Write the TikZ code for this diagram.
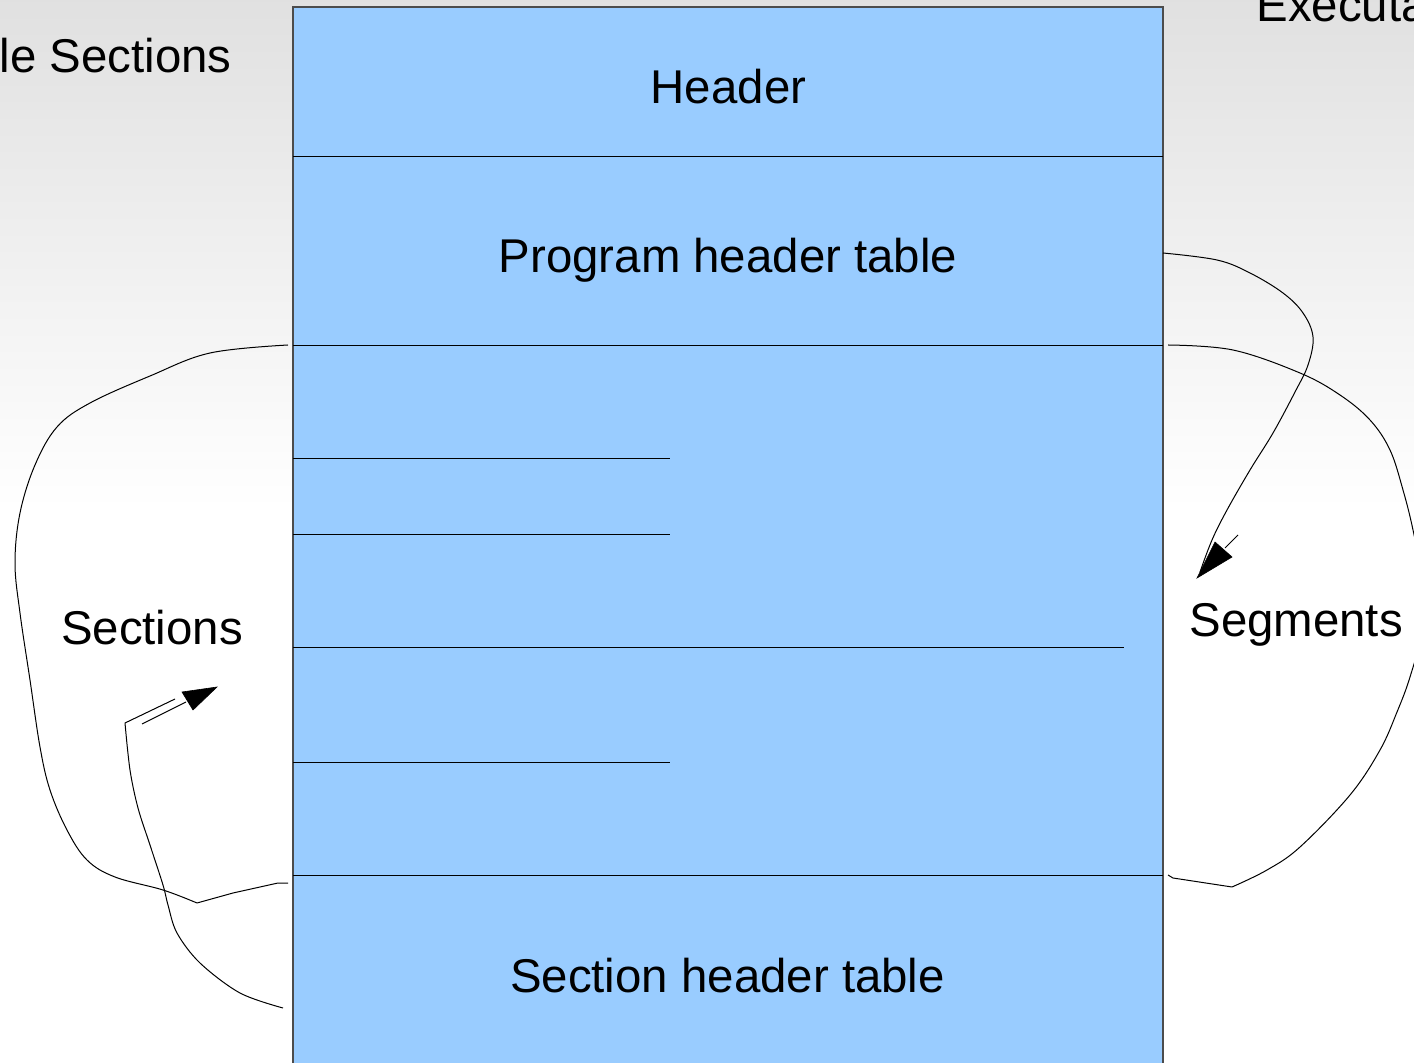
\documentclass[tikz,border=0pt]{standalone}
\usepackage{fontspec}
\setmainfont{Liberation Sans}
\definecolor{boxblue}{HTML}{99CCFF}
\begin{document}
\begin{tikzpicture}[x=0.5pt,y=-0.5pt,
  lbl/.style={font=\fontsize{23.7}{28}\selectfont, inner sep=0pt, anchor=base},
  sep/.style={line width=0.5pt, draw=black},
  curve/.style={line width=0.5pt, draw=black, line join=round},
  head/.style={fill=black, draw=black, line width=0.3pt}]
\useasboundingbox (0,0) rectangle (1414,1063);
\clip (0,0) rectangle (1414,1063);
% background
\shade[top color=black!12, bottom color=white] (0,0) rectangle (1414,510);
\fill[white] (0,509) rectangle (1414,1063);
% file box
\draw[fill=boxblue, draw=black!70, line width=0.75pt] (293,7) rectangle (1163,1090);
\draw[sep] (293,157) -- (1163,157);
\draw[sep] (293,346) -- (1163,346);
\draw[sep] (293,459) -- (670,459);
\draw[sep] (293,535) -- (670,535);
\draw[sep] (293,648) -- (1124,648);
\draw[sep] (293,762) -- (670,762);
\draw[sep] (293,875) -- (1163,875);
% labels
\node[lbl] (hdr) at (728.5,104) {Header};
\node[lbl] (pht) at (728,273) {Program header table};
\node[lbl] (sht) at (727.5,992) {Section header table};
\node[lbl] (secs) at (152,645) {Sections};
\node[lbl, anchor=base west] (segs) at (1189,637) {Segments};
\node[lbl, anchor=base east] (lsec) at (232,73) {Linkable Sections};
\node[lbl, anchor=base west] (eseg) at (1256,22) {Executable Segments};
% left brace (sections)
\coordinate (lb1) at (288,345);
\coordinate (lb2) at (288,883);
\draw[curve] plot[smooth, tension=0.6] coordinates {(lb1) (210,353) (150,376) (90,403) (57,427) (35,465) (20,513) (15,563) (20,613) (30,680) (40,747) (50,790) (67,830) (87,860) (115,877) (163,890) (197,903)}
  -- (233,893) -- (278,883) -- (lb2);
% left arrow
\coordinate (la1) at (283,1008);
\draw[curve] plot[smooth, tension=0.55] coordinates {(la1) (240,993) (200,963) (177,933) (168,905) (163,885) (150,845) (138,808) (130,770) (125,723)} -- (175,699);
\draw[curve] (142,724) -- (186,702);
\fill[head] (217,687) -- (182,692) -- (193,710) -- cycle;
% right arrow (program header table -> segments)
\coordinate (ra1) at (1163,253);
\draw[curve] plot[smooth, tension=0.6] coordinates {(ra1) (1217,260) (1250,273) (1283,293) (1303,313) (1313,337) (1308,365) (1295,392) (1273,433) (1250,470) (1227,510) (1212,540) (1200,572)};
\draw[curve] (1238,535) -- (1225,548);
\fill[head] (1197,578) -- (1215,542) -- (1232,557) -- cycle;
% right brace (segments)
\coordinate (rb1) at (1168,345);
\coordinate (rb2) at (1168,875);
\draw[curve] plot[smooth, tension=0.6] coordinates {(rb1) (1233,350) (1300,373) (1340,395) (1370,420) (1390,450) (1403,490) (1413,530) (1422,580) (1422,630) (1410,677) (1397,712) (1380,750) (1350,795) (1300,847) (1267,870) (1232,887)}
  -- (1173,878) -- (rb2);
\end{tikzpicture}
\end{document}
